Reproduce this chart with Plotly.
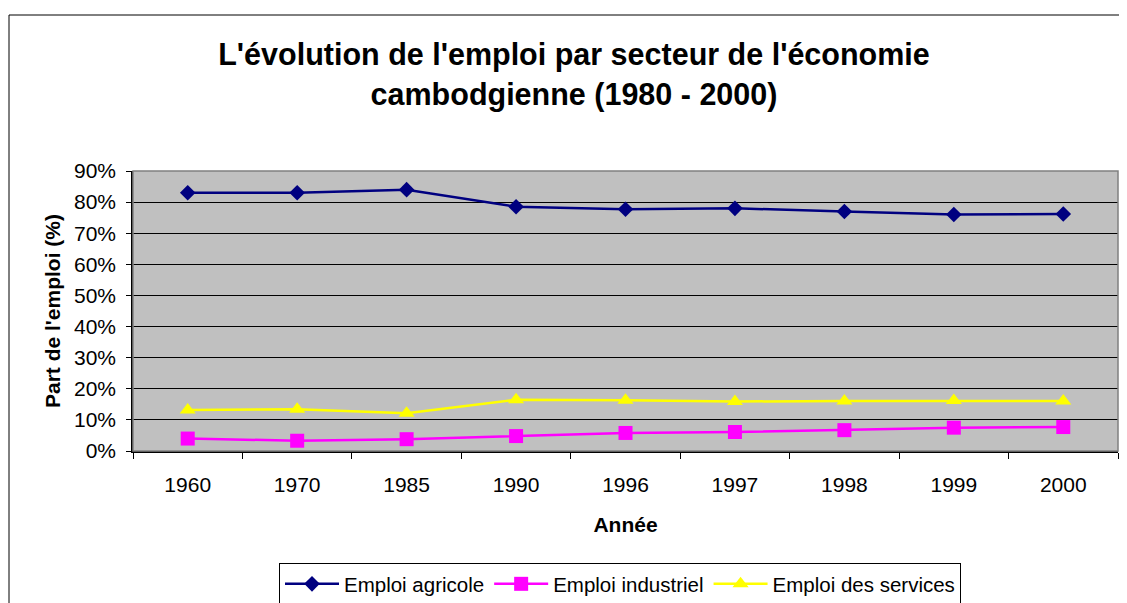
import plotly.graph_objects as go

years = ["1960", "1970", "1985", "1990", "1996", "1997", "1998", "1999", "2000"]
agricole = [0.830, 0.830, 0.840, 0.785, 0.777, 0.780, 0.770, 0.760, 0.762]
industriel = [0.040, 0.033, 0.038, 0.048, 0.058, 0.061, 0.067, 0.075, 0.077]
services = [0.132, 0.134, 0.121, 0.165, 0.163, 0.159, 0.161, 0.162, 0.161]
y_ticks = [0, 0.1, 0.2, 0.3, 0.4, 0.5, 0.6, 0.7, 0.8, 0.9]

FONT = "Liberation Sans, Arial, sans-serif"

# The page body adds an 8 px offset; the figure is sized so it fills the 1127x603 window.
W, H = 1119, 595
PL, PR, PT, PB = 125, 1110, 163, 443  # plot-area edges in figure pixels
PW, PH = PR - PL, PB - PT

fig = go.Figure()
fig.add_trace(go.Scatter(x=years, y=agricole, name="Emploi agricole", mode="lines+markers",
                         line=dict(color="#000080", width=2.5),
                         marker=dict(symbol="diamond", size=12, color="#000080")))
fig.add_trace(go.Scatter(x=years, y=industriel, name="Emploi industriel", mode="lines+markers",
                         line=dict(color="#FF00FF", width=2.5),
                         marker=dict(symbol="square", size=14, color="#FF00FF")))
fig.add_trace(go.Scatter(x=years, y=services, name="Emploi des services", mode="lines+markers",
                         line=dict(color="#FFFF00", width=2.5),
                         marker=dict(symbol="triangle-up", size=14, color="#FFFF00")))

bx0 = (1 - PL) / PW
bx1 = (W - PL) / PW
by0 = (PB - H) / PH
by1 = (PB - 7) / PH

fig.update_layout(
    width=W, height=H,
    margin=dict(l=PL, r=W - PR, t=PT, b=H - PB, autoexpand=False),
    paper_bgcolor="white",
    plot_bgcolor="#C0C0C0",
    font=dict(family=FONT, size=21, color="black"),
    title=dict(text="L'évolution de l'emploi par secteur de l'économie<br>cambodgienne (1980 - 2000)",
               font=dict(family=FONT, size=30.5, color="black", weight="bold"),
               x=566 / W, xanchor="center", xref="container",
               y=1 - 57 / H, yanchor="top", yref="container"),
    showlegend=True,
    legend=dict(orientation="h", x=(271 - PL) / PW, xanchor="left",
                y=(PB - 555) / PH, yanchor="top",
                bgcolor="white", bordercolor="black", borderwidth=1,
                font=dict(family=FONT, size=20.5, color="black"),
                itemwidth=54),
    shapes=[dict(type="line", xref="paper", yref="paper",
                 x0=bx0, x1=bx1, y0=by1, y1=by1,
                 line=dict(color="black", width=1), layer="above"),
            dict(type="line", xref="paper", yref="paper",
                 x0=bx0, x1=bx0, y0=by0, y1=by1,
                 line=dict(color="black", width=1), layer="above"),
            dict(type="rect", xref="paper", yref="paper", x0=0, x1=1, y0=0, y1=1,
                 line=dict(color="#808080", width=1.5), fillcolor="rgba(0,0,0,0)", layer="above")],
)

fig.update_xaxes(
    type="category", tickson="boundaries", ticks="outside", ticklen=6, tickcolor="black",
    showline=True, linecolor="black", linewidth=1.5, showgrid=False, mirror=False,
    automargin=False, ticklabelstandoff=14,
    tickfont=dict(family=FONT, size=21, color="black"),
    title=dict(text="Année", font=dict(family=FONT, size=21, color="black", weight="bold"), standoff=22),
    range=[-0.5, 8.5],
)
fig.update_yaxes(
    range=[0, 0.9], tickvals=y_ticks, tickformat=".0%", ticks="outside", ticklen=5, tickcolor="black",
    showline=True, linecolor="black", linewidth=1.5, showgrid=True, gridcolor="black", gridwidth=1,
    zeroline=False, ticklabelstandoff=6, automargin=False,
    tickfont=dict(family=FONT, size=21, color="black"),
    title=dict(text="Part de l'emploi (%)", font=dict(family=FONT, size=21, color="black", weight="bold"), standoff=8),
)

fig.write_html("out.html")
